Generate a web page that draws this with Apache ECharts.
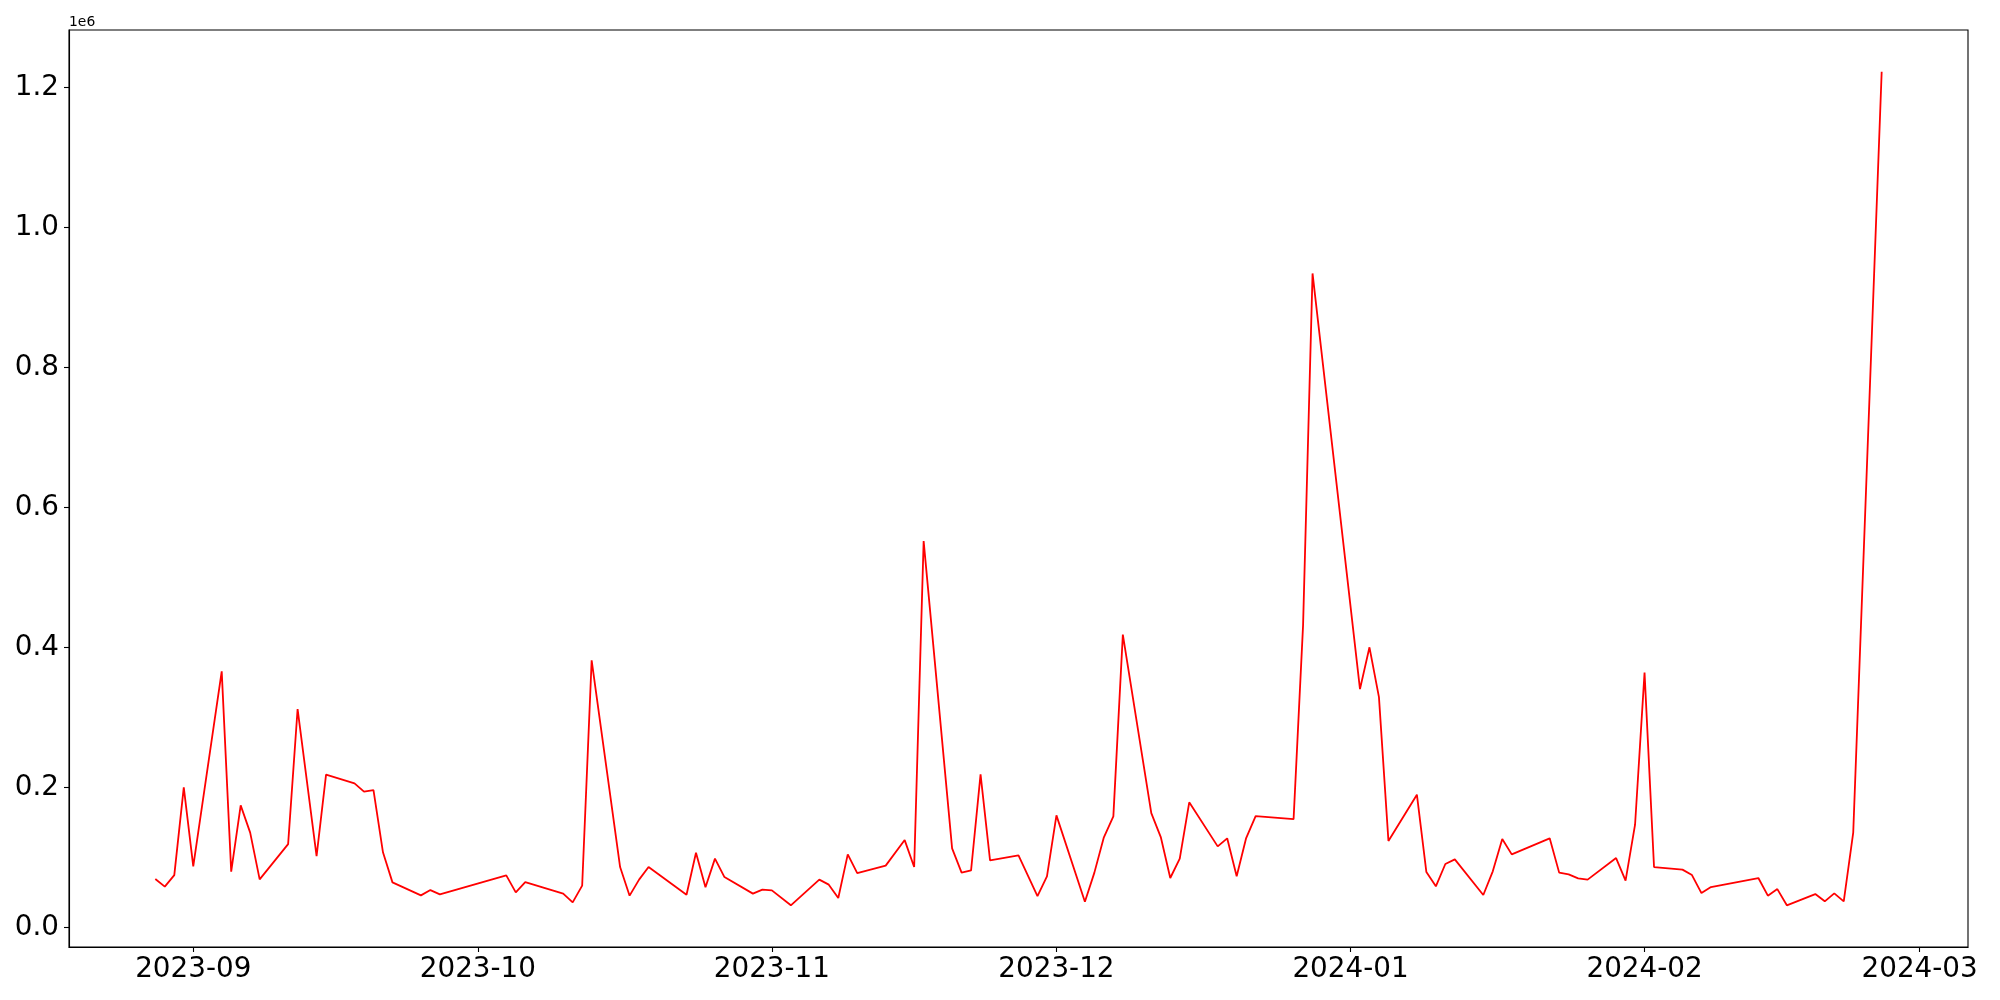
<!DOCTYPE html>
<html><head><meta charset="utf-8">
<script src="https://cdn.jsdelivr.net/npm/echarts@6/dist/echarts.min.js"></script>
<style>html,body{margin:0;padding:0;background:#fff}#c{width:2000px;height:1000px}</style>
</head><body><div id="c"></div>
<script>
const dates = [
'2023-08-28','2023-08-29','2023-08-30','2023-08-31','2023-09-01',
'2023-09-04','2023-09-05','2023-09-06','2023-09-07','2023-09-08',
'2023-09-11','2023-09-12','2023-09-14','2023-09-15',
'2023-09-18','2023-09-19','2023-09-20','2023-09-21','2023-09-22',
'2023-09-25','2023-09-26','2023-09-27',
'2023-10-04','2023-10-05','2023-10-06',
'2023-10-10','2023-10-11','2023-10-12','2023-10-13',
'2023-10-16','2023-10-17','2023-10-18','2023-10-19',
'2023-10-23','2023-10-24','2023-10-25','2023-10-26','2023-10-27',
'2023-10-30','2023-10-31','2023-11-01','2023-11-03',
'2023-11-06','2023-11-07','2023-11-08','2023-11-09','2023-11-10',
'2023-11-13','2023-11-15','2023-11-16','2023-11-17',
'2023-11-20','2023-11-21','2023-11-22','2023-11-23','2023-11-24',
'2023-11-27','2023-11-29','2023-11-30','2023-12-01',
'2023-12-04','2023-12-05','2023-12-06','2023-12-07','2023-12-08',
'2023-12-11','2023-12-12','2023-12-13','2023-12-14','2023-12-15',
'2023-12-18','2023-12-19','2023-12-20','2023-12-21','2023-12-22',
'2023-12-26','2023-12-27','2023-12-28',
'2024-01-02','2024-01-03','2024-01-04','2024-01-05',
'2024-01-08','2024-01-09','2024-01-10','2024-01-11','2024-01-12',
'2024-01-15','2024-01-16','2024-01-17','2024-01-18',
'2024-01-22','2024-01-23','2024-01-24','2024-01-25','2024-01-26',
'2024-01-29','2024-01-30','2024-01-31','2024-02-01','2024-02-02',
'2024-02-05','2024-02-06','2024-02-07','2024-02-08',
'2024-02-13','2024-02-14','2024-02-15','2024-02-16',
'2024-02-19','2024-02-20','2024-02-21','2024-02-22','2024-02-23',
'2024-02-26'
];
const values = [
69400,58600,75100,200400,87600,
366100,80000,174700,135700,69000,
119400,312300,102300,218600,
206100,194300,196600,107600,64700,
46100,53700,47600,
74700,50400,65100,
48600,36100,60000,381900,
86600,45700,68600,86600,
47100,107100,57600,98600,72300,
48600,54300,53300,31900,
68600,61400,42300,104700,78000,
88600,125100,86600,552300,
113300,78600,81900,219000,96100,
103300,45100,73300,160400,
37100,78600,129000,159000,418600,
163700,129400,70900,98600,179000,
116100,127600,73300,128000,159400,
155100,431900,934700,
340700,400500,329400,123700,
190000,79400,59000,90900,97600,
46600,80400,126600,104700,
127600,78600,76100,70400,68600,
99400,67100,147100,364300,86600,
82900,75100,49400,58000,
70900,45700,55100,31900,
48000,37600,49000,37600,135700,
1222900
];
const xTickLabels = ['2023-09','2023-10','2023-11','2023-12','2024-01','2024-02','2024-03'];
const yTickLabels = ['0.0','0.2','0.4','0.6','0.8','1.0','1.2'];
const yOffsetText = '1e6';

function toTs(s){ const p = s.split('-').map(Number); return Date.UTC(p[0], p[1]-1, p[2] || 1); }
const xs = dates.map(toTs);
const seriesData = xs.map((t,i)=>[t, values[i]]);
const xMinD = Math.min(...xs), xMaxD = Math.max(...xs);
const xSpan = xMaxD - xMinD;
const yMinD = Math.min(...values), yMaxD = Math.max(...values);
const ySpan = yMaxD - yMinD;
const xTickVals = xTickLabels.map(toTs);
const yTickVals = yTickLabels.map(s => parseFloat(s) * 1e6);
function xLabel(v){
  let best = 0, bd = Infinity;
  xTickVals.forEach((t,i)=>{ const d = Math.abs(t - v); if (d < bd){ bd = d; best = i; } });
  return bd < 3600000 ? xTickLabels[best] : '';
}
function yLabel(v){
  let best = 0, bd = Infinity;
  yTickVals.forEach((t,i)=>{ const d = Math.abs(t - v); if (d < bd){ bd = d; best = i; } });
  return bd < 1 ? yTickLabels[best] : '';
}

const FONT = 'DejaVu Sans';
const chart = echarts.init(document.getElementById('c'), null, {renderer:'canvas'});
chart.setOption({
  animation: false,
  backgroundColor: '#fff',
  grid: {left: 69, right: 32, top: 30, bottom: 53, show: true, borderColor: '#000', borderWidth: 1.1, containLabel: false},
  xAxis: {
    type: 'value',
    min: xMinD - 0.05 * xSpan,
    max: xMaxD + 0.05 * xSpan,
    splitLine: {show: false},
    axisLine: {show: true, onZero: false, lineStyle: {color: '#000', width: 1.1}},
    axisTick: {show: true, inside: false, length: 5, lineStyle: {color: '#000', width: 1.1}, customValues: xTickVals},
    axisLabel: {show: true, margin: 9, fontSize: 27.8, fontFamily: FONT, color: '#000',
      customValues: xTickVals, formatter: xLabel}
  },
  yAxis: {
    type: 'value',
    min: yMinD - 0.05 * ySpan,
    max: yMaxD + 0.05 * ySpan,
    name: yOffsetText,
    nameLocation: 'end',
    nameGap: 1,
    nameTextStyle: {fontSize: 13.9, fontFamily: FONT, color: '#000', align: 'left', verticalAlign: 'bottom'},
    splitLine: {show: false},
    axisLine: {show: true, onZero: false, lineStyle: {color: '#000', width: 1.1}},
    axisTick: {show: true, inside: false, length: 5, lineStyle: {color: '#000', width: 1.1}, customValues: yTickVals},
    axisLabel: {show: true, margin: 10, fontSize: 27.8, fontFamily: FONT, color: '#000',
      customValues: yTickVals, formatter: yLabel}
  },
  series: [{
    type: 'line',
    data: seriesData,
    showSymbol: false,
    symbol: 'none',
    lineStyle: {color: '#ff0000', width: 1.8},
    itemStyle: {color: '#ff0000'},
    smooth: false
  }]
});
</script>
</body></html>
